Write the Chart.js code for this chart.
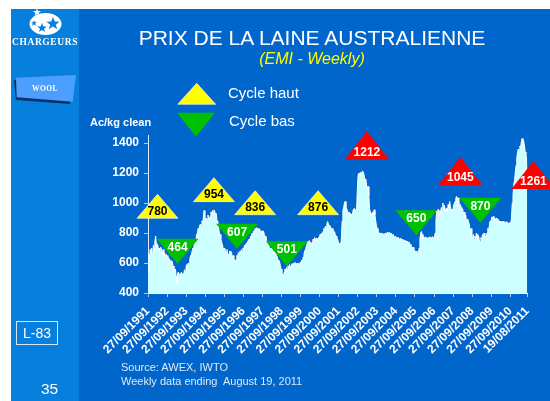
<!DOCTYPE html>
<html>
<head>
<meta charset="utf-8">
<script src="https://cdn.jsdelivr.net/npm/chart.js@4.4.0/dist/chart.umd.min.js"></script>
<style>
body { margin: 0; width: 550px; height: 401px; overflow: hidden; background: #ffffff; font-family: "Liberation Sans", Arial, sans-serif; }
#slide { position: absolute; left: 11px; top: 9px; width: 539px; height: 392px; background: #0066cc; }
#side { position: absolute; left: 11px; top: 9px; width: 68px; height: 392px; background: #0680dc; }
canvas { position: absolute; left: 0; top: 0; }
.txt { position: absolute; white-space: nowrap; color: #ffffff; line-height: 1; }
#title { left: 312px; top: 26.6px; font-size: 21px; transform: translateX(-50%); }
#subtitle { left: 312px; top: 50.5px; font-size: 16px; font-style: italic; color: #ffff00; transform: translateX(-50%); }
#leg1 { left: 228px; top: 84.7px; font-size: 15px; }
#leg2 { left: 229px; top: 113px; font-size: 15px; }
#unit { left: 90px; top: 116.9px; font-size: 11px; font-weight: bold; }
#src1 { left: 121px; top: 361.6px; font-size: 11px; color: #dde8f5; }
#src2 { left: 121px; top: 375.6px; font-size: 11px; color: #dde8f5; }
#code { position: absolute; left: 16px; top: 321px; width: 40px; height: 22px; border: 1px solid #d5e6f7; color: #fff; font-size: 14px; display: flex; align-items: center; justify-content: center; }
#page { left: 41px; top: 381.3px; font-size: 15.5px; }
#brand { left: 12px; top: 37.5px; font-family: "Liberation Serif", "Times New Roman", serif; font-weight: bold; font-size: 9.5px; letter-spacing: 0.6px; }
#wool { left: 45px; top: 85px; font-family: "Liberation Serif", "Times New Roman", serif; font-weight: bold; font-size: 7.5px; letter-spacing: 0.5px; transform: translateX(-50%); }
svg { position: absolute; left: 0; top: 0; }
</style>
</head>
<body>
<div id="slide"></div>
<div id="side"></div>
<svg width="550" height="401">
  <ellipse cx="45.5" cy="24" rx="16" ry="11" fill="#ffffff"/>
  <polygon points="37,8 38,11 41,11 38.5,13 39.5,16 37,14 34.5,16 35.5,13 33,11 36,11" fill="#ffffff"/>
  <polygon points="53,17 54.8,21.6 59.5,21.8 55.8,24.7 57.2,29.3 53,26.6 48.8,29.3 50.2,24.7 46.5,21.8 51.2,21.6" fill="#0680dc"/>
  <polygon points="42,23 43.3,26.4 46.8,26.5 44,28.7 45,32 42,30 39,32 40,28.7 37.2,26.5 40.7,26.4" fill="#0680dc"/>
  <polygon points="34,20 34.8,22.2 37,22.3 35.3,23.6 35.9,25.8 34,24.5 32.1,25.8 32.7,23.6 31,22.3 33.2,22.2" fill="#0680dc"/>
  <polygon points="14,80 73,78 70,104 16,100" fill="#07306a"/>
  <polygon points="16,77.7 76,75 72.7,101.7 16.7,97.3" fill="#4d9fff"/>
  <polygon points="177.7,104.3 215.7,104.3 196.7,83.3" fill="#ffff00" stroke="#ffffff" stroke-width="0.6"/>
  <polygon points="177,112.7 215,112.7 196,136.7" fill="#00c000"/>
</svg>
<canvas id="chart" width="550" height="401"></canvas>
<div class="txt" id="title">PRIX DE LA LAINE AUSTRALIENNE</div>
<div class="txt" id="subtitle">(EMI - Weekly)</div>
<div class="txt" id="leg1">Cycle haut</div>
<div class="txt" id="leg2">Cycle bas</div>
<div class="txt" id="unit">Ac/kg clean</div>
<div class="txt" id="src1">Source: AWEX, IWTO</div>
<div class="txt" id="src2">Weekly data ending&nbsp; August 19, 2011</div>
<div id="code">L-83</div>
<div class="txt" id="page">35</div>
<div class="txt" id="brand">CHARGEURS</div>
<div class="txt" id="wool">WOOL</div>
<script>
// --- Data (decimal years, EMI in Ac/kg clean) ---
const xStart = 1991.74;   // 27/09/1991
const xEnd = 2011.63;     // 19/08/2011

const tickYears = [1991.74, 1992.74, 1993.74, 1994.74, 1995.74, 1996.74, 1997.74, 1998.74, 1999.74, 2000.74,
  2001.74, 2002.74, 2003.74, 2004.74, 2005.74, 2006.74, 2007.74, 2008.74, 2009.74, 2010.74, 2011.63];
const tickLabels = ['27/09/1991', '27/09/1992', '27/09/1993', '27/09/1994', '27/09/1995', '27/09/1996', '27/09/1997',
  '27/09/1998', '27/09/1999', '27/09/2000', '27/09/2001', '27/09/2002', '27/09/2003', '27/09/2004', '27/09/2005',
  '27/09/2006', '27/09/2007', '27/09/2008', '27/09/2009', '27/09/2010', '19/08/2011'];
const yTicks = [400, 600, 800, 1000, 1200, 1400];

const emiDates = [
  1991.74, 1991.77, 1991.79, 1991.82, 1991.86, 1991.89, 1991.93, 1991.96,
  1992.00, 1992.03, 1992.06, 1992.10, 1992.14, 1992.17, 1992.21, 1992.25, 1992.29, 1992.33, 1992.37, 1992.41, 1992.45, 1992.49, 1992.53, 1992.57, 1992.61, 1992.65, 1992.70, 1992.74, 1992.78, 1992.82, 1992.86, 1992.90, 1992.94, 1992.98,
  1993.02, 1993.06, 1993.10, 1993.14, 1993.18, 1993.22, 1993.26, 1993.29, 1993.33, 1993.37, 1993.41, 1993.45, 1993.49, 1993.53, 1993.57, 1993.61, 1993.65, 1993.69, 1993.73, 1993.77, 1993.81, 1993.85, 1993.89, 1993.93, 1993.97,
  1994.01, 1994.05, 1994.09, 1994.13, 1994.17, 1994.21, 1994.25, 1994.29, 1994.33, 1994.37, 1994.41, 1994.45, 1994.49, 1994.53, 1994.57, 1994.61, 1994.65, 1994.68, 1994.72, 1994.76, 1994.80, 1994.84, 1994.88, 1994.92, 1994.96,
  1995.00, 1995.04, 1995.08, 1995.12, 1995.16, 1995.20, 1995.24, 1995.28, 1995.32, 1995.36, 1995.40, 1995.44, 1995.48, 1995.52, 1995.56, 1995.60, 1995.64, 1995.68, 1995.72, 1995.76, 1995.80, 1995.84, 1995.88, 1995.92, 1995.96,
  1996.00, 1996.04, 1996.08, 1996.12, 1996.16, 1996.20, 1996.24, 1996.28, 1996.32, 1996.36, 1996.40, 1996.44, 1996.48, 1996.52, 1996.56, 1996.60, 1996.64, 1996.68, 1996.72, 1996.76, 1996.80, 1996.84, 1996.88, 1996.92, 1996.96,
  1997.00, 1997.04, 1997.08, 1997.12, 1997.16, 1997.20, 1997.24, 1997.28, 1997.32, 1997.36, 1997.40, 1997.44, 1997.48, 1997.52, 1997.56, 1997.60, 1997.64, 1997.68, 1997.72, 1997.76, 1997.80, 1997.84, 1997.88, 1997.92, 1997.96,
  1998.00, 1998.04, 1998.08, 1998.12, 1998.16, 1998.20, 1998.24, 1998.28, 1998.32, 1998.36, 1998.40, 1998.44, 1998.48, 1998.52, 1998.56, 1998.60, 1998.64, 1998.68, 1998.72, 1998.76, 1998.80, 1998.84, 1998.88, 1998.92, 1998.96,
  1999.00, 1999.04, 1999.08, 1999.12, 1999.16, 1999.20, 1999.24, 1999.28, 1999.32, 1999.36, 1999.40, 1999.44, 1999.48, 1999.52, 1999.56, 1999.60, 1999.64, 1999.68, 1999.72, 1999.76, 1999.80, 1999.84, 1999.88, 1999.92, 1999.96,
  2000.00, 2000.04, 2000.08, 2000.12, 2000.16, 2000.20, 2000.24, 2000.28, 2000.32, 2000.36, 2000.40, 2000.44, 2000.48, 2000.52, 2000.56, 2000.60, 2000.64, 2000.68, 2000.72, 2000.76, 2000.80, 2000.84, 2000.88, 2000.92, 2000.96,
  2001.00, 2001.04, 2001.08, 2001.12, 2001.16, 2001.20, 2001.24, 2001.28, 2001.32, 2001.36, 2001.40, 2001.44, 2001.48, 2001.52, 2001.56, 2001.60, 2001.64, 2001.68, 2001.72, 2001.76, 2001.80, 2001.84, 2001.88, 2001.92, 2001.96,
  2002.00, 2002.04, 2002.08, 2002.12, 2002.16, 2002.20, 2002.24, 2002.28, 2002.32, 2002.36, 2002.40, 2002.44, 2002.48, 2002.52, 2002.56, 2002.60, 2002.64, 2002.68, 2002.72, 2002.76, 2002.80, 2002.84, 2002.88, 2002.92, 2002.96,
  2003.00, 2003.04, 2003.08, 2003.12, 2003.16, 2003.20, 2003.24, 2003.28, 2003.32, 2003.36, 2003.40, 2003.44, 2003.48, 2003.52, 2003.56, 2003.60, 2003.64, 2003.68, 2003.72, 2003.76, 2003.80, 2003.84, 2003.88, 2003.92, 2003.96,
  2004.00, 2004.04, 2004.08, 2004.12, 2004.16, 2004.20, 2004.24, 2004.28, 2004.32, 2004.36, 2004.40, 2004.44, 2004.48, 2004.52, 2004.56, 2004.60, 2004.64, 2004.68, 2004.72, 2004.76, 2004.80, 2004.84, 2004.88, 2004.92, 2004.96,
  2005.00, 2005.04, 2005.08, 2005.12, 2005.16, 2005.20, 2005.24, 2005.28, 2005.32, 2005.36, 2005.40, 2005.44, 2005.48, 2005.52, 2005.56, 2005.60, 2005.64, 2005.68, 2005.72, 2005.76, 2005.80, 2005.84, 2005.88, 2005.92, 2005.96,
  2006.00, 2006.04, 2006.08, 2006.12, 2006.16, 2006.20, 2006.24, 2006.28, 2006.32, 2006.36, 2006.40, 2006.44, 2006.48, 2006.52, 2006.56, 2006.60, 2006.64, 2006.68, 2006.72, 2006.76, 2006.80, 2006.84, 2006.88, 2006.92, 2006.96,
  2007.00, 2007.04, 2007.08, 2007.12, 2007.16, 2007.20, 2007.24, 2007.28, 2007.32, 2007.36, 2007.40, 2007.44, 2007.48, 2007.52, 2007.56, 2007.60, 2007.64, 2007.68, 2007.72, 2007.76, 2007.80, 2007.84, 2007.88, 2007.92, 2007.96,
  2008.00, 2008.04, 2008.08, 2008.12, 2008.16, 2008.20, 2008.24, 2008.28, 2008.32, 2008.36, 2008.40, 2008.44, 2008.48, 2008.52, 2008.56, 2008.60, 2008.64, 2008.68, 2008.72, 2008.76, 2008.80, 2008.84, 2008.88, 2008.92, 2008.96,
  2009.00, 2009.04, 2009.08, 2009.12, 2009.16, 2009.20, 2009.24, 2009.28, 2009.32, 2009.36, 2009.40, 2009.44, 2009.48, 2009.52, 2009.56, 2009.60, 2009.64, 2009.68, 2009.72, 2009.76, 2009.80, 2009.84, 2009.88, 2009.92, 2009.96,
  2010.00, 2010.04, 2010.08, 2010.12, 2010.16, 2010.20, 2010.24, 2010.28, 2010.32, 2010.36, 2010.40, 2010.44, 2010.48, 2010.52, 2010.56, 2010.60, 2010.64, 2010.68, 2010.72, 2010.76, 2010.80, 2010.84, 2010.88, 2010.92, 2010.96,
  2011.00, 2011.04, 2011.08, 2011.12, 2011.16, 2011.20, 2011.24, 2011.28, 2011.32, 2011.36, 2011.40, 2011.44, 2011.48, 2011.52, 2011.56, 2011.60, 2011.63
];
const emiValues = [
  533, 610, 660, 640, 690, 670, 700, 660,
  690, 720, 700, 740, 780, 730, 700, 720, 690, 700, 670, 705, 680, 660, 690, 650, 670, 640, 660, 630, 650, 610, 630, 600, 620, 590,
  610, 570, 580, 540, 560, 510, 464, 520, 540, 500, 530, 510, 540, 515, 530, 520, 555, 540, 570, 590, 575, 600, 580, 620, 650,
  640, 680, 700, 690, 730, 760, 750, 790, 800, 830, 820, 850, 860, 845, 880, 870, 910, 950, 905, 890, 900, 885, 920, 910, 890,
  910, 940, 925, 950, 935, 954, 945, 920, 930, 880, 860, 840, 800, 790, 760, 740, 720, 700, 690, 700, 680, 670, 690, 660, 650,
  665, 680, 650, 670, 640, 650, 630, 625, 607, 620, 650, 640, 670, 660, 680, 665, 690, 675, 700, 690, 720, 700, 730, 720, 745,
  740, 760, 750, 780, 770, 800, 790, 815, 800, 830, 815, 836, 820, 830, 810, 825, 805, 800, 815, 795, 810, 790, 770, 780, 750,
  740, 720, 710, 700, 690, 700, 680, 690, 670, 680, 660, 670, 650, 640, 620, 600, 610, 580, 560, 540, 520, 501, 540, 560, 540,
  570, 555, 580, 565, 590, 575, 580, 595, 580, 600, 590, 605, 595, 590, 600, 585, 595, 590, 605, 600, 620, 610, 640, 660, 680,
  690, 710, 730, 745, 730, 750, 720, 740, 715, 730, 760, 745, 770, 750, 765, 745, 760, 770, 760, 790, 780, 800, 790, 810, 830,
  820, 845, 835, 860, 876, 860, 850, 830, 840, 820, 830, 810, 800, 810, 790, 780, 770, 760, 740, 730, 720, 720, 760, 880, 950,
  970, 1000, 1010, 980, 960, 950, 930, 940, 920, 930, 915, 930, 945, 960, 965, 950, 955, 960, 1100, 1190, 1200, 1190, 1205, 1195, 1210,
  1212, 1200, 1180, 1150, 1160, 1120, 1100, 1110, 1050, 960, 940, 930, 920, 940, 930, 955, 920, 880, 850, 830, 800, 805, 790, 800, 795,
  800, 790, 795, 785, 800, 790, 795, 805, 800, 795, 805, 800, 790, 795, 780, 790, 775, 770, 780, 765, 770, 760, 770, 755, 760,
  765, 750, 760, 745, 755, 740, 750, 745, 735, 745, 730, 740, 720, 725, 710, 700, 705, 690, 685, 670, 680, 665, 660, 670, 700,
  760, 800, 810, 790, 760, 770, 765, 775, 760, 770, 760, 770, 765, 775, 770, 760, 775, 765, 760, 770, 800, 880, 950, 930, 960,
  920, 950, 930, 970, 940, 1000, 955, 985, 960, 940, 965, 945, 990, 970, 1010, 975, 950, 960, 945, 980, 995, 1010, 1030, 1045, 1020,
  1035, 1000, 985, 990, 970, 950, 960, 930, 940, 900, 920, 880, 890, 860, 870, 850, 800, 830, 770, 760, 790, 745, 780, 760, 800,
  790, 760, 780, 745, 740, 770, 755, 790, 780, 800, 785, 770, 790, 800, 830, 815, 850, 880, 870, 905, 895, 910, 890, 900, 880,
  900, 885, 875, 890, 870, 880, 865, 875, 870, 880, 865, 870, 860, 875, 865, 870, 860, 865, 870, 860, 900, 1000, 1050, 1120, 1150,
  1200, 1250, 1300, 1340, 1360, 1350, 1380, 1370, 1410, 1430, 1400, 1415, 1380, 1340, 1330, 1280, 1220
];

// cycle markers: position (year), level where the triangle sits (Ac/kg), printed value, kind
const cycleYears = [1992.24, 1993.29, 1995.20, 1996.41, 1997.36, 1999.02, 2000.66, 2003.22, 2005.81, 2008.12, 2009.17, 2011.95];
const cycleLevels = [898, 762, 1009, 862, 922, 745, 922, 1291, 951, 1120, 1035, 1093];
const cycleValues = [780, 464, 954, 607, 836, 501, 876, 1212, 650, 1045, 870, 1261];
const cycleKinds = ['haut', 'bas', 'haut', 'bas', 'haut', 'bas', 'haut', 'record', 'bas', 'record', 'bas', 'record'];

const FONT = '"Liberation Sans", Arial, sans-serif';
const kindColors = { haut: '#ffff00', bas: '#00c000', record: '#ff0000' };

// --- Triangles plugin ---
const cycleMarkers = {
    id: 'cycleMarkers',
    afterDatasetsDraw(chart) {
        const { ctx, scales: { x, y } } = chart;
        ctx.save();
        cycleYears.forEach((yr, i) => {
            const kind = cycleKinds[i];
            const cx = x.getPixelForValue(yr);
            const ay = y.getPixelForValue(cycleLevels[i]);
            const up = kind !== 'bas';
            const w = kind === 'record' ? 44 : (up ? 41 : 42);
            const h = kind === 'record' ? 28 : (up ? 24 : 25);
            ctx.beginPath();
            ctx.moveTo(cx - w / 2, ay);
            ctx.lineTo(cx + w / 2, ay);
            ctx.lineTo(cx, up ? ay - h : ay + h);
            ctx.closePath();
            ctx.fillStyle = kindColors[kind];
            ctx.fill();
            if (kind === 'haut') {
                ctx.strokeStyle = '#ffffff';
                ctx.lineWidth = 0.6;
                ctx.stroke();
            }
            ctx.font = 'bold 12px ' + FONT;
            ctx.textAlign = 'center';
            ctx.textBaseline = 'middle';
            ctx.fillStyle = kind === 'haut' ? '#000000' : '#ffffff';
            ctx.fillText(String(cycleValues[i]), cx, up ? ay - 7 : ay + 8.5);
        });
        ctx.restore();
    }
};

// --- Chart ---
const ctx = document.getElementById('chart').getContext('2d');
new Chart(ctx, {
    type: 'line',
    data: {
        datasets: [{
            data: emiDates.map((d, i) => ({ x: d, y: emiValues[i] })),
            borderColor: '#ffffff',
            borderWidth: 1,
            backgroundColor: '#ccffff',
            fill: 'start',
            pointRadius: 0,
            tension: 0
        }]
    },
    options: {
        responsive: false,
        animation: false,
        layout: { padding: { left: 88, right: 22.7, top: 135.5, bottom: 38 } },
        plugins: { legend: { display: false }, tooltip: { enabled: false } },
        scales: {
            x: {
                type: 'linear',
                min: xStart,
                max: xEnd,
                afterBuildTicks: s => { s.ticks = tickYears.map(v => ({ value: v })); },
                afterFit: s => { s.height = 70; },
                ticks: {
                    autoSkip: false,
                    maxRotation: 45,
                    minRotation: 45,
                    padding: 7,
                    color: '#ffffff',
                    font: { family: FONT, size: 12, weight: 'bold' },
                    callback: (v, i) => tickLabels[i]
                },
                grid: { drawOnChartArea: false, tickLength: 4, color: '#a9cdf0' },
                border: { color: '#ffffff', width: 1 }
            },
            y: {
                min: 400,
                max: 1450,
                afterBuildTicks: s => { s.ticks = yTicks.map(v => ({ value: v })); },
                afterFit: s => { s.width = 60; },
                ticks: {
                    padding: 5,
                    color: '#ffffff',
                    font: { family: FONT, size: 12, weight: 'bold' },
                    callback: v => String(v)
                },
                grid: { drawOnChartArea: false, tickLength: 4, color: '#a9cdf0' },
                border: { color: '#d8ecff', width: 1 }
            }
        }
    },
    plugins: [cycleMarkers]
});
</script>
</body>
</html>
